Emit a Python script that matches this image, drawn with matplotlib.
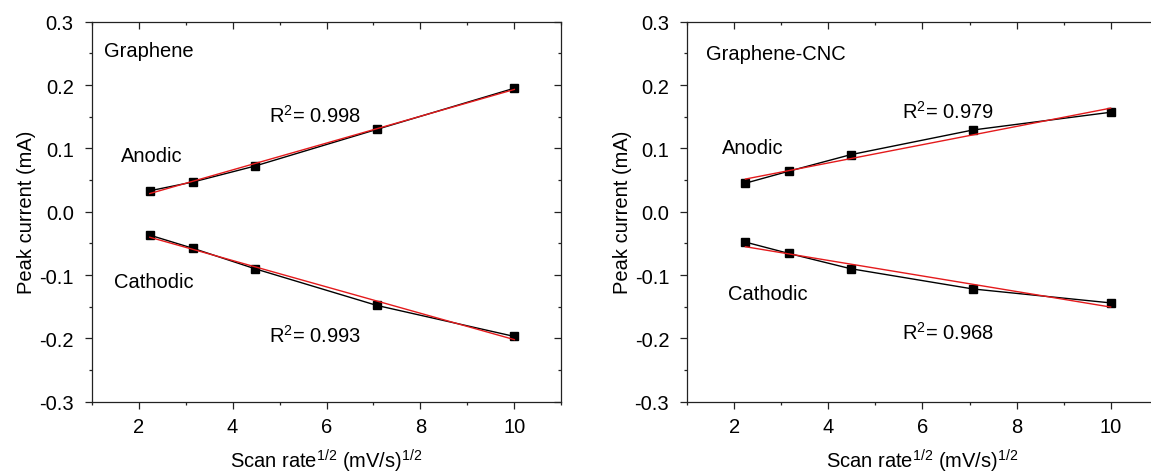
import numpy as np
import matplotlib
matplotlib.use("Agg")
import matplotlib.pyplot as plt
from matplotlib.ticker import MultipleLocator

plt.rcParams['font.family'] = ['Liberation Sans', 'DejaVu Sans']
plt.rcParams['mathtext.fontset'] = 'custom'
plt.rcParams['mathtext.rm'] = 'Liberation Sans'
plt.rcParams['mathtext.it'] = 'Liberation Sans'

# sqrt(scan rate) for 5, 10, 20, 50, 100 mV/s
scan_rate_sqrt = [2.236, 3.162, 4.472, 7.071, 10.0]

graphene_anodic = [0.033, 0.047, 0.072, 0.130, 0.195]
graphene_cathodic = [-0.037, -0.058, -0.090, -0.148, -0.197]
cnc_anodic = [0.045, 0.064, 0.090, 0.129, 0.157]
cnc_cathodic = [-0.048, -0.066, -0.090, -0.122, -0.144]

y_ticks = [-0.3, -0.2, -0.1, 0.0, 0.1, 0.2, 0.3]
y_ticklabels = ['-0.3', '-0.2', '-0.1', '0.0', '0.1', '0.2', '0.3']

panels = [
    {"title": "Graphene", "anodic": graphene_anodic, "cathodic": graphene_cathodic,
     "r2_a": "0.998", "r2_c": "0.993",
     "title_xy": (1.27, 0.254), "an_xy": (1.62, 0.088), "ca_xy": (1.48, -0.111),
     "ra_xy": (4.78, 0.153), "rc_xy": (4.78, -0.194)},
    {"title": "Graphene-CNC", "anodic": cnc_anodic, "cathodic": cnc_cathodic,
     "r2_a": "0.979", "r2_c": "0.968",
     "title_xy": (1.39, 0.25), "an_xy": (1.74, 0.101), "ca_xy": (1.86, -0.129),
     "ra_xy": (5.57, 0.160), "rc_xy": (5.57, -0.189)},
]


def style_ticks(obj, axis, direction, pad=None):
    kw = dict(axis=axis, which='both', direction=direction, colors='#222222')
    if pad is not None:
        kw['pad'] = pad
    obj.tick_params(**kw)
    obj.tick_params(axis=axis, which='major', length=5, width=0.9)
    obj.tick_params(axis=axis, which='minor', length=2.5, width=0.9)


fig = plt.figure(figsize=(11.51, 4.77), dpi=100)
axes = [fig.add_axes([0.0797, 0.1558, 0.408, 0.7966]),
        fig.add_axes([0.5971, 0.1558, 0.4087, 0.7966])]

fs = 14.5
x = np.array(scan_rate_sqrt)
for ax, p in zip(axes, panels):
    for key in ("anodic", "cathodic"):
        y = np.array(p[key])
        ax.plot(x, y, color='black', lw=1.0, marker='s', ms=6, zorder=3)
        # linear fit (red)
        k, b = np.polyfit(x, y, 1)
        ax.plot([x[0], x[-1]], [k * x[0] + b, k * x[-1] + b], color='#e41a1c', lw=1.0, zorder=4)

    ax.set_xlim(1, 11)
    ax.set_ylim(-0.3, 0.3)
    ax.xaxis.set_major_locator(MultipleLocator(2))
    ax.xaxis.set_minor_locator(MultipleLocator(1))
    ax.set_yticks(y_ticks)
    ax.set_yticklabels(y_ticklabels)
    ax.yaxis.set_minor_locator(MultipleLocator(0.05))
    style_ticks(ax, 'x', 'out', pad=6)
    style_ticks(ax, 'y', 'out', pad=8)
    ax.tick_params(labelsize=fs, labelcolor='black')

    # inward ticks on top and right
    sx = ax.secondary_xaxis('top')
    sx.xaxis.set_major_locator(MultipleLocator(2))
    sx.xaxis.set_minor_locator(MultipleLocator(1))
    style_ticks(sx, 'x', 'in')
    sx.tick_params(labeltop=False)
    sy = ax.secondary_yaxis('right')
    sy.set_yticks(y_ticks)
    sy.yaxis.set_minor_locator(MultipleLocator(0.05))
    style_ticks(sy, 'y', 'in')
    sy.tick_params(labelright=False)
    for s in (sx, sy):
        for spine in s.spines.values():
            spine.set_visible(False)
    for spine in ax.spines.values():
        spine.set_color('#222222')
        spine.set_linewidth(0.9)

    ax.set_xlabel("Scan rate$^{1/2}$ (mV/s)$^{1/2}$", fontsize=fs, labelpad=8)
    ax.set_ylabel("Peak current (mA)", fontsize=fs, labelpad=2)

    ax.text(*p["title_xy"], p["title"], fontsize=fs, va='center', ha='left')
    ax.text(*p["an_xy"], "Anodic", fontsize=fs, va='center', ha='left')
    ax.text(*p["ca_xy"], "Cathodic", fontsize=fs, va='center', ha='left')
    ax.text(*p["ra_xy"], "R$^{2}$= " + p["r2_a"], fontsize=fs, va='center', ha='left')
    ax.text(*p["rc_xy"], "R$^{2}$= " + p["r2_c"], fontsize=fs, va='center', ha='left')

fig.savefig("out.png", dpi=100)
